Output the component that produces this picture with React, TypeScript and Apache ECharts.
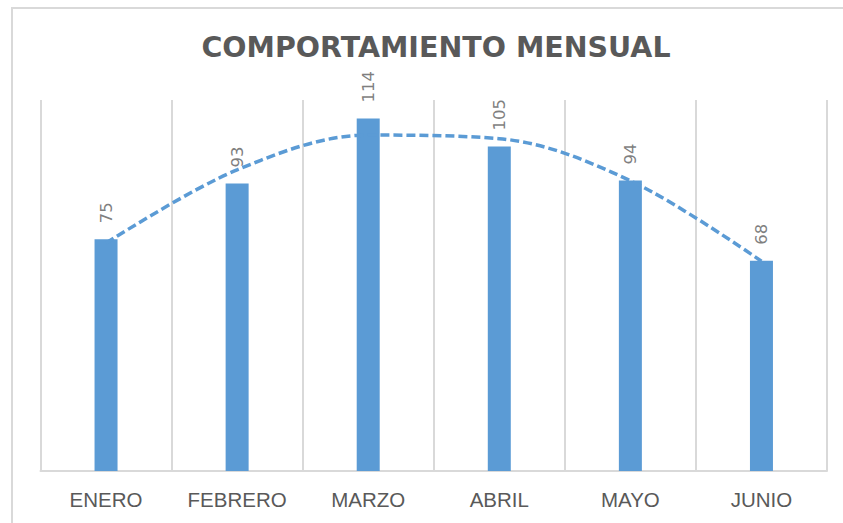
import React, { useEffect, useRef } from "react";
import * as echarts from "echarts";

// Monthly figures shown in the chart
const categories = ["ENERO", "FEBRERO", "MARZO", "ABRIL", "MAYO", "JUNIO"];
const monthlyValues = [75, 93, 114, 105, 94, 68];
const axisMin = 0;
const axisMax = 120;

// Second-order polynomial trend line (least squares fit of the monthly values),
// evaluated at each month.
function quadraticTrend(values: number[]): number[] {
  const n = values.length;
  const mid = (n - 1) / 2;
  const t = values.map((_, i) => i - mid);
  let s2 = 0, s4 = 0, sy = 0, sty = 0, st2y = 0;
  t.forEach((ti, i) => {
    const y = values[i];
    s2 += ti * ti;
    s4 += ti * ti * ti * ti;
    sy += y;
    sty += ti * y;
    st2y += ti * ti * y;
  });
  const b = sty / s2;
  // n a + s2 c = sy ; s2 a + s4 c = st2y
  const det = n * s4 - s2 * s2;
  const a = (sy * s4 - s2 * st2y) / det;
  const c = (n * st2y - s2 * sy) / det;
  return t.map((ti) => a + b * ti + c * ti * ti);
}

const BLUE = "#5B9BD5";
const GRID_GREY = "#d9d9d9";

export default function App() {
  const ref = useRef<HTMLDivElement>(null);

  useEffect(() => {
    if (!ref.current) return;
    const chart = echarts.init(ref.current, null, { renderer: "svg" });
    const trend = quadraticTrend(monthlyValues);

    chart.setOption({
      animation: false,
      backgroundColor: "#ffffff",
      title: {
        text: "COMPORTAMIENTO MENSUAL",
        left: 431,
        textAlign: "center",
        top: 28,
        textStyle: {
          fontFamily: "DejaVu Sans",
          fontWeight: "bold",
          fontSize: 28.5,
          color: "#595959",
        },
      },
      graphic: [
        {
          type: "rect",
          silent: true,
          z: -10,
          shape: { x: 12, y: 8, width: 900, height: 600 },
          style: { fill: "none", stroke: GRID_GREY, lineWidth: 2 },
        },
      ],
      grid: { left: 40.5, right: 16, top: 100, bottom: 52 },
      xAxis: {
        type: "category",
        data: categories,
        boundaryGap: true,
        axisLine: { show: true, lineStyle: { color: GRID_GREY, width: 2 } },
        axisTick: { show: false },
        axisLabel: {
          color: "#595959",
          fontFamily: "Liberation Sans",
          fontSize: 20.5,
          margin: 18,
        },
        splitLine: { show: true, lineStyle: { color: GRID_GREY, width: 2 } },
      },
      yAxis: {
        type: "value",
        min: axisMin,
        max: axisMax,
        show: false,
        splitLine: { show: false },
      },
      series: [
        {
          type: "bar",
          data: monthlyValues,
          barWidth: 23,
          itemStyle: { color: BLUE },
          label: {
            show: true,
            position: "top",
            rotate: 90,
            align: "left",
            verticalAlign: "middle",
            distance: 16,
            color: "#7f7f7f",
            fontFamily: "DejaVu Sans",
            fontSize: 16.5,
          },
          z: 2,
        },
        {
          type: "line",
          data: trend,
          smooth: 0.34,
          symbol: "none",
          silent: true,
          lineStyle: { color: BLUE, width: 3.5, type: [9, 4] },
          z: 3,
        },
      ],
    });

    return () => chart.dispose();
  }, []);

  return (
    <div
      ref={ref}
      style={{ position: "absolute", left: 0, top: 0, width: 843, height: 523 }}
    />
  );
}
